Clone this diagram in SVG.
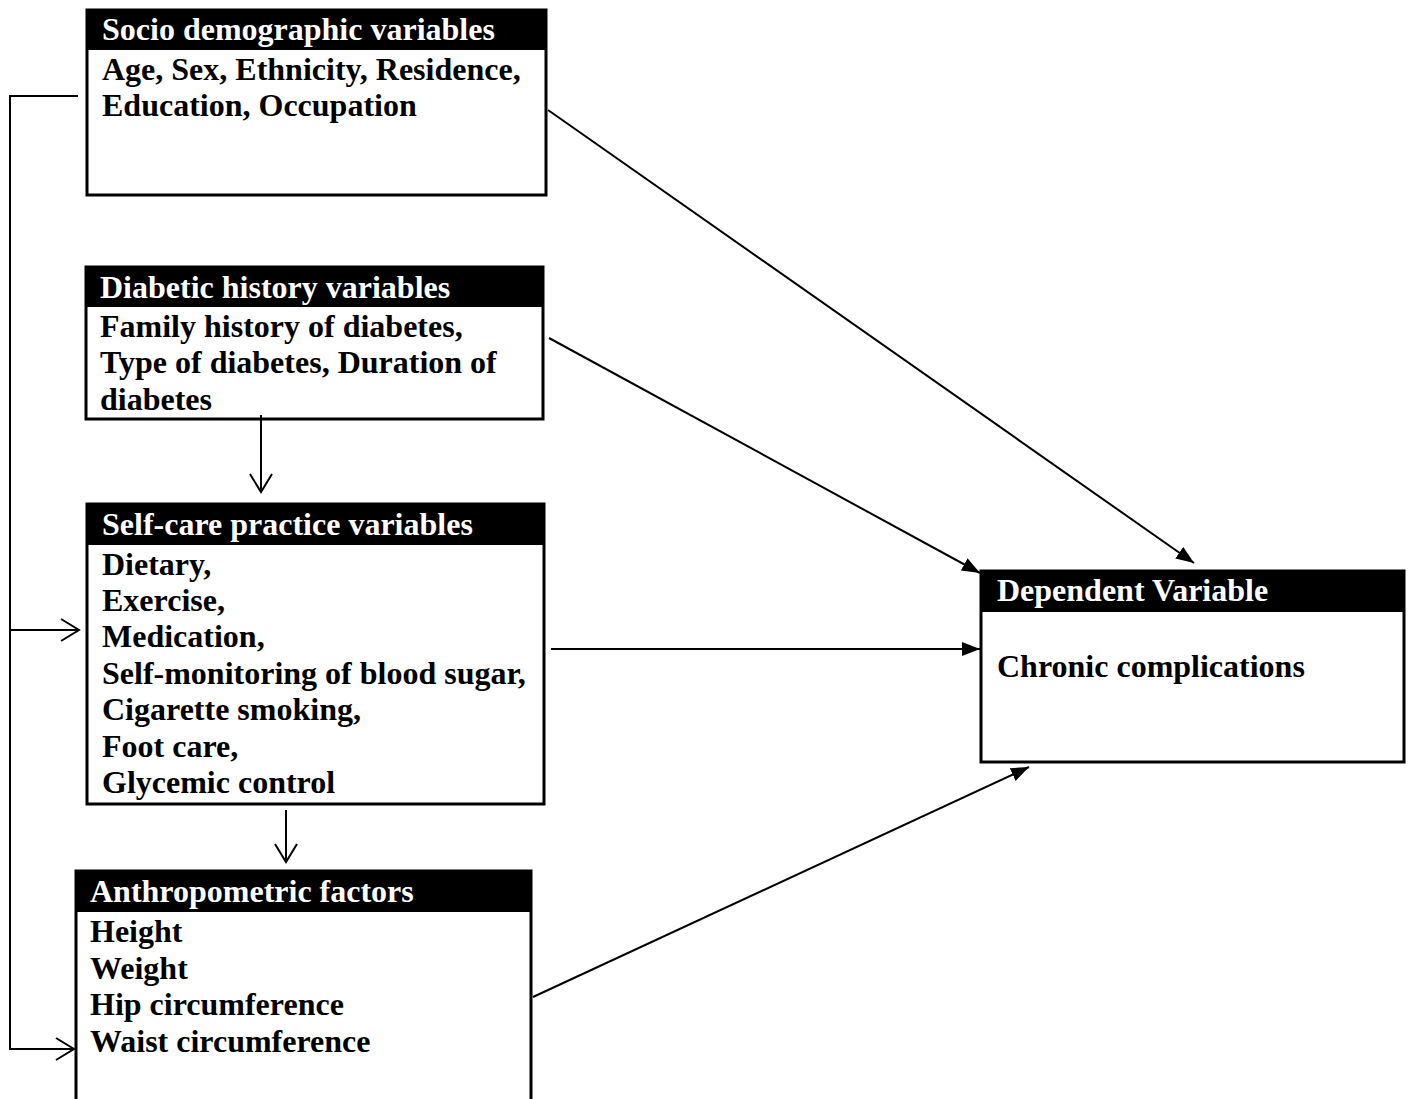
<svg xmlns="http://www.w3.org/2000/svg" width="1412" height="1099" viewBox="0 0 1412 1099">
<style>
.box{fill:#fff;stroke:#000;stroke-width:3}
.hdr{fill:#000}
.t{font-family:"Liberation Serif","Times New Roman",serif;font-weight:bold;font-size:32px}
.h{fill:#fff}
.b{fill:#000}
.c{fill:none;stroke:#000;stroke-width:2}
</style>
<defs>
<marker id="fa" markerUnits="userSpaceOnUse" markerWidth="20" markerHeight="14" refX="18" refY="7" orient="auto"><path d="M0,0 L18,7 L0,14 z" fill="#000"/></marker>
<marker id="oa" markerUnits="userSpaceOnUse" markerWidth="22" markerHeight="26" refX="19" refY="12" orient="auto"><path d="M1,1 L19,12 L1,23" fill="none" stroke="#000" stroke-width="2"/></marker>
</defs>
<rect width="1412" height="1099" fill="#fff"/>
<g id="socio">
<rect class="box" x="87" y="10" width="459" height="185"/>
<rect class="hdr" x="87" y="10" width="459" height="40"/>
<text class="t h" x="102" y="40">Socio demographic variables</text>
<text class="t b" x="102" y="80">Age, Sex, Ethnicity, Residence,</text>
<text class="t b" x="102" y="116">Education, Occupation</text>
</g>
<g id="diabetic">
<rect class="box" x="86" y="267" width="457" height="152"/>
<rect class="hdr" x="86" y="267" width="457" height="40"/>
<text class="t h" x="100" y="298">Diabetic history variables</text>
<text class="t b" x="100" y="337">Family history of diabetes,</text>
<text class="t b" x="100" y="373">Type of diabetes, Duration of</text>
<text class="t b" x="100" y="410">diabetes</text>
</g>
<g id="selfcare">
<rect class="box" x="87" y="504" width="457" height="300"/>
<rect class="hdr" x="87" y="504" width="457" height="41"/>
<text class="t h" x="102" y="535">Self-care practice variables</text>
<text class="t b" x="102" y="575">Dietary,</text>
<text class="t b" x="102" y="611">Exercise,</text>
<text class="t b" x="102" y="647">Medication,</text>
<text class="t b" x="102" y="684">Self-monitoring of blood sugar,</text>
<text class="t b" x="102" y="720">Cigarette smoking,</text>
<text class="t b" x="102" y="757">Foot care,</text>
<text class="t b" x="102" y="793">Glycemic control</text>
</g>
<g id="anthro">
<rect class="box" x="76" y="871" width="455" height="240"/>
<rect class="hdr" x="76" y="871" width="455" height="41"/>
<text class="t h" x="90" y="902">Anthropometric factors</text>
<text class="t b" x="90" y="942">Height</text>
<text class="t b" x="90" y="979">Weight</text>
<text class="t b" x="90" y="1015">Hip circumference</text>
<text class="t b" x="90" y="1052">Waist circumference</text>
</g>
<g id="dependent">
<rect class="box" x="981" y="571" width="423" height="191"/>
<rect class="hdr" x="981" y="571" width="423" height="41"/>
<text class="t h" x="997" y="601">Dependent Variable</text>
<text class="t b" x="997" y="677">Chronic complications</text>
</g>
<g id="connectors">
<polyline class="c" points="78,96 10,96 10,1049 74,1049" marker-end="url(#oa)"/>
<line class="c" x1="10" y1="630" x2="79" y2="630" marker-end="url(#oa)"/>
<line class="c" x1="261" y1="415" x2="261" y2="492" marker-end="url(#oa)"/>
<line class="c" x1="286" y1="810" x2="286" y2="862" marker-end="url(#oa)"/>
<line class="c" x1="548" y1="110" x2="1194" y2="563" marker-end="url(#fa)"/>
<line class="c" x1="549" y1="338" x2="980" y2="573" marker-end="url(#fa)"/>
<line class="c" x1="551" y1="649" x2="980" y2="649" marker-end="url(#fa)"/>
<line class="c" x1="533" y1="997" x2="1029" y2="767" marker-end="url(#fa)"/>
</g>
</svg>
